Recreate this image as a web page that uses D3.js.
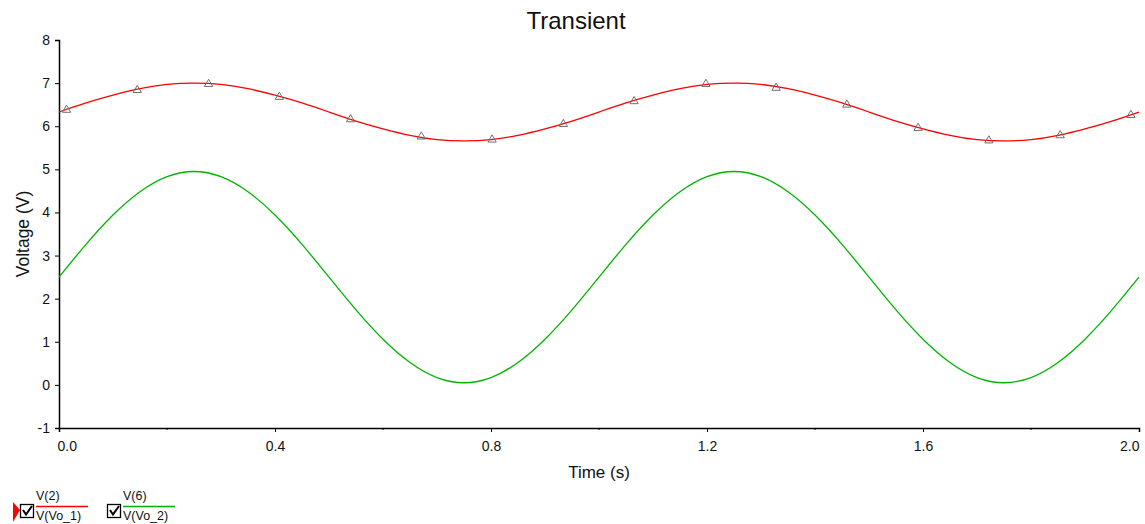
<!DOCTYPE html>
<html lang="en">
<head>
<meta charset="utf-8">
<title>Transient</title>
<script src="https://d3js.org/d3.v7.min.js"></script>
<style>
    body { margin: 0; background: #fff; }
    text { font-family: "Liberation Sans", Arial, sans-serif; fill: #111; }
</style>
</head>
<body>
<svg width="1145" height="524"></svg>
<script>
    // time samples (s), every 0.05 s
    var times = [0.00,0.05,0.10,0.15,0.20,0.25,0.30,0.35,0.40,0.45,
                 0.50,0.55,0.60,0.65,0.70,0.75,0.80,0.85,0.90,0.95,
                 1.00,1.05,1.10,1.15,1.20,1.25,1.30,1.35,1.40,1.45,
                 1.50,1.55,1.60,1.65,1.70,1.75,1.80,1.85,1.90,1.95,2.00];
    // V(Vo_1), red
    var vo1 = [6.33,6.54,6.72,6.87,6.97,7.00,6.97,6.87,6.72,6.54,
               6.33,6.12,5.94,5.79,5.69,5.66,5.69,5.79,5.94,6.12,
               6.33,6.54,6.72,6.87,6.97,7.00,6.97,6.87,6.72,6.54,
               6.33,6.12,5.94,5.79,5.69,5.66,5.69,5.79,5.94,6.12,6.33];
    // V(Vo_2), green
    var vo2 = [2.50,3.26,3.94,4.48,4.83,4.95,4.83,4.48,3.94,3.26,
               2.50,1.74,1.06,0.52,0.17,0.05,0.17,0.52,1.06,1.74,
               2.50,3.26,3.94,4.48,4.83,4.95,4.83,4.48,3.94,3.26,
               2.50,1.74,1.06,0.52,0.17,0.05,0.17,0.52,1.06,1.74,2.50];
    // triangle markers on V(Vo_1)
    var markT = [0.014,0.145,0.277,0.408,0.540,0.671,0.802,0.934,
                 1.065,1.198,1.328,1.459,1.591,1.722,1.854,1.985];
    var markV = [6.39,6.85,6.99,6.69,6.17,5.77,5.70,6.06,
                 6.59,6.99,6.90,6.51,5.97,5.68,5.80,6.27];
    var xTicks = [0.0,0.4,0.8,1.2,1.6,2.0];
    var xMinor = [0.2,0.6,1.0,1.4,1.8];
    var yTicks = [-1,0,1,2,3,4,5,6,7,8];

    var svg = d3.select("svg");
    var mLeft = 59, mRight = 1139, mTop = 40, mBottom = 428;

    var x = d3.scaleLinear().domain([0,2]).range([mLeft,mRight]);
    var y = d3.scaleLinear().domain([-1,8]).range([mBottom,mTop]);

    // title
    svg.append("text")
        .attr("x",576).attr("y",29)
        .attr("text-anchor","middle")
        .style("font-size","24px")
        .text("Transient");

    // x axis
    var xAxis = svg.append("g")
        .attr("transform","translate(0,"+mBottom+")")
        .call(d3.axisBottom(x).tickValues(xTicks).tickSizeOuter(0).tickSize(4).tickPadding(9)
            .tickFormat(d3.format(".1f")));
    xAxis.attr("font-size",14).attr("font-family",null);
    xAxis.selectAll("text")
        .attr("text-anchor",function(d){ return d==0 ? "start" : (d==2 ? "end" : "middle"); })
        .attr("dx",function(d){ return d==0 ? -2 : 0; });
    xAxis.selectAll("line").attr("stroke","#000");
    xAxis.select(".domain").attr("stroke","#000").attr("stroke-width",1.5);
    svg.append("g")
        .attr("transform","translate(0,"+mBottom+")")
        .selectAll("line").data(xMinor).enter().append("line")
        .attr("x1",function(d){ return x(d); }).attr("x2",function(d){ return x(d); })
        .attr("y1",0).attr("y2",2).attr("stroke","#000");

    // y axis
    var yAxis = svg.append("g")
        .attr("transform","translate("+mLeft+",0)")
        .call(d3.axisLeft(y).tickValues(yTicks).tickSizeOuter(0).tickSize(4).tickPadding(5)
            .tickFormat(function(d){ return String(d); }));
    yAxis.attr("font-size",14).attr("font-family",null);
    yAxis.selectAll("line").attr("stroke","#000");
    yAxis.select(".domain").attr("stroke","#000").attr("stroke-width",1.5);

    // axis titles
    svg.append("text")
        .attr("x",(mLeft+mRight)/2).attr("y",478)
        .attr("text-anchor","middle")
        .style("font-size","17px")
        .text("Time (s)");
    svg.append("text")
        .attr("transform","translate(29,"+((mTop+mBottom)/2)+") rotate(-90)")
        .attr("text-anchor","middle")
        .style("font-size","17.5px")
        .text("Voltage (V)");

    // traces
    var line = d3.line()
        .x(function(d,i){ return x(times[i]); })
        .y(function(d){ return y(d); })
        .curve(d3.curveNatural);

    svg.append("path").datum(vo2)
        .attr("d",line).attr("fill","none")
        .attr("stroke","#00b400").attr("stroke-width",1.3);
    svg.append("path").datum(vo1)
        .attr("d",line).attr("fill","none")
        .attr("stroke","#ff0000").attr("stroke-width",1.3);

    // markers
    var tri = d3.symbol().type(d3.symbolTriangle).size(30);
    svg.append("g").selectAll("path")
        .data(markT).enter().append("path")
        .attr("d",tri)
        .attr("transform",function(d,i){ return "translate("+x(d)+","+(y(markV[i])+0.5)+")"; })
        .attr("fill","none").attr("stroke","#707070").attr("stroke-width",1);

    // legend
    var legendTop = ["V(2)","V(6)"];
    var legendBottom = ["V(Vo_1)","V(Vo_2)"];
    var legendColor = ["#ff0000","#00b400"];
    var legendX = [20,107];

    svg.append("path")
        .attr("d","M13,502 L20,510 L13,522 Z")
        .attr("fill","#ff0000");

    var lg = svg.append("g").selectAll("g")
        .data(legendTop).enter().append("g")
        .attr("transform",function(d,i){ return "translate("+legendX[i]+",0)"; });
    lg.append("rect")
        .attr("x",0.5).attr("y",504.5).attr("width",13).attr("height",13)
        .attr("fill","#fff").attr("stroke","#000").attr("stroke-width",1.3);
    lg.append("path")
        .attr("d","M3,510 L6,514.5 L12,506")
        .attr("fill","none").attr("stroke","#000").attr("stroke-width",2);
    lg.append("line")
        .attr("x1",16).attr("x2",68).attr("y1",506.5).attr("y2",506.5)
        .attr("stroke",function(d,i){ return legendColor[i]; }).attr("stroke-width",1.5);
    lg.append("text")
        .attr("x",16).attr("y",500)
        .style("font-size","12.5px")
        .text(function(d){ return d; });
    lg.append("text")
        .attr("x",16).attr("y",520)
        .style("font-size","12.5px")
        .text(function(d,i){ return legendBottom[i]; });
</script>
</body>
</html>
